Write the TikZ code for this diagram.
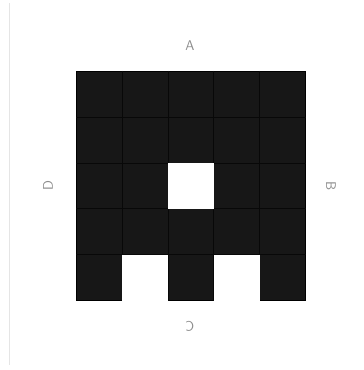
\documentclass[tikz,border=0pt]{standalone}
\begin{document}
\begin{tikzpicture}[x=0.03cm,y=-0.03cm,
    lbl/.style={text=black!45, font=\sffamily\large, inner sep=1pt}]
    \useasboundingbox (0,0) rectangle (363,370);
    \draw[black!10, line width=0.8pt] (9,3) -- (9,365);
    % the board
    \filldraw[fill=black!91, draw=black] (76,71) rectangle (305.5,300.5);
    \foreach \k in {1,...,4} {
        \draw[black!97, line width=0.5pt] (76+45.9*\k,71) -- (76+45.9*\k,300.5);
        \draw[black!97, line width=0.5pt] (76,71+45.9*\k) -- (305.5,71+45.9*\k);
    }
    % white cells
    \fill[white] (167.8,162.8) rectangle +(45.9,45.9);
    \fill[white] (121.9,254.6) rectangle (167.8,302);
    \fill[white] (213.7,254.6) rectangle (259.6,302);
    % side letters
    \node[lbl] (A) at (190,46) {A};
    \node[lbl, rotate=-90] (B) at (331,186) {B};
    \node[lbl, rotate=180] (C) at (190,326) {C};
    \node[lbl, rotate=90] (D) at (48,186) {D};
\end{tikzpicture}
\end{document}
